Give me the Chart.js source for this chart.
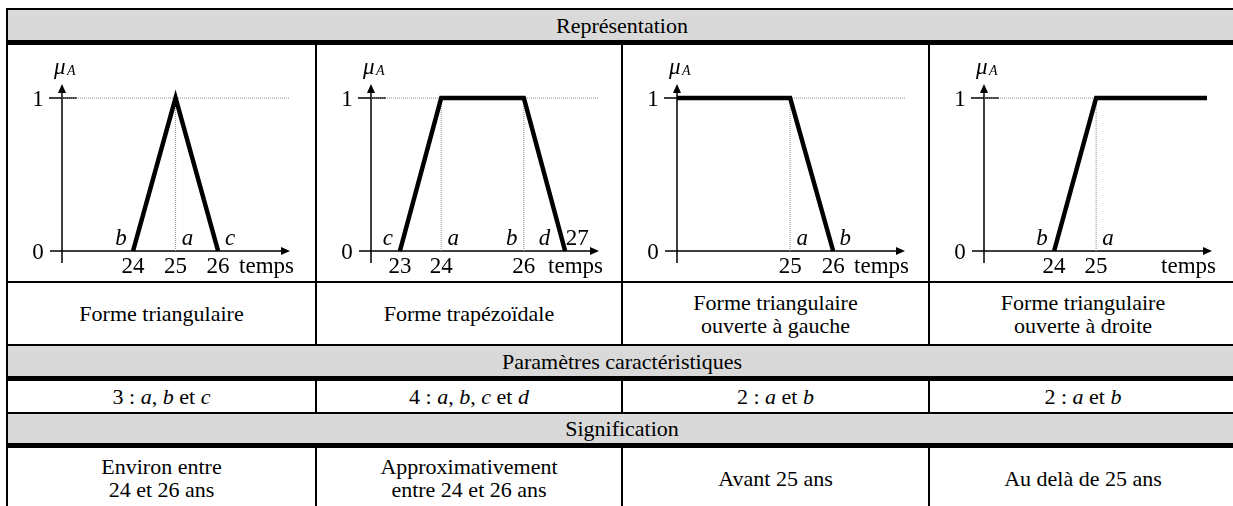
<!DOCTYPE html>
<html lang="fr">
<head>
    <meta charset="UTF-8">
    <title>Fonctions d'appartenance</title>
    <script src="https://cdn.jsdelivr.net/npm/chart.js"></script>
    <style>
        html, body {
            margin: 0;
            padding: 0;
            background: #fff;
            overflow: hidden;
            width: 1233px;
            height: 506px;
        }

        #grid {
            position: absolute;
            left: 6px;
            top: 8px;
            border-collapse: separate;
            border-spacing: 0;
            border-left: 2px solid #000;
            border-top: 2px solid #000;
            font-family: "Liberation Serif", "Times New Roman", serif;
            font-size: 22px;
            color: #000;
        }

        #grid td {
            padding: 0;
            border-right: 2px solid #000;
            border-bottom: 2px solid #000;
            vertical-align: top;
        }

        #grid td.head {
            background: #d9d9d9;
            border-bottom-width: 5px;
        }

        .txt {
            display: flex;
            align-items: center;
            justify-content: center;
            text-align: center;
            line-height: 23px;
        }

        canvas {
            display: block;
        }
    </style>
    <script>
        // membership functions: x = age, y = degree
        const triX = [24, 25, 26];
        const triY = [0, 1, 0];
        const trapX = [23, 24, 26, 27];
        const trapY = [0, 1, 1, 0];
        const leftX = [22.37, 25, 26];
        const leftY = [1, 1, 0];
        const rightX = [24, 25, 27.64];
        const rightY = [0, 1, 1];

        // axis ranges (from y axis to arrow head)
        const triRange = [22.33, 27.69];
        const trapRange = [22.30, 27.82];
        const leftRange = [22.37, 27.67];
        const rightRange = [22.33, 27.76];

        // tick labels under the axis
        const triTicks = [24, 25, 26];
        const trapTicks = [23, 24, 26];
        const leftTicks = [25, 26];
        const rightTicks = [24, 25];

        // parameter letters above the axis
        const triLetters = ["b", "a", "c"];
        const triLetterAt = [24, 25, 26];
        const triLetterSide = [-1, 1, 1];
        const trapLetters = ["c", "a", "b", "d", "27"];
        const trapLetterAt = [23, 24, 26, 26.5, 27];
        const trapLetterSide = [-1, 1, -1, 0, 1];
        const leftLetters = ["a", "b"];
        const leftLetterAt = [25, 26];
        const leftLetterSide = [1, 1];
        const rightLetters = ["b", "a"];
        const rightLetterAt = [24, 25];
        const rightLetterSide = [-1, 1];

        // dotted guides: verticals at x, horizontal at y=1 between two x
        const triGuideX = [25];
        const triGuideSpan = [22.33, 27.69];
        const trapGuideX = [24, 26];
        const trapGuideSpan = [22.30, 27.82];
        const leftGuideX = [25];
        const leftGuideSpan = [25, 27.67];
        const rightGuideX = [25];
        const rightGuideSpan = [22.33, 25];

        const serif = '"Liberation Serif", "Times New Roman", serif';

        const fuzzyAxes = {
            id: "fuzzyAxes",
            beforeDatasetsDraw(chart) {
                const { ctx, chartArea: a, scales: { y } } = chart;
                const y0 = y.getPixelForValue(0);
                const y1 = y.getPixelForValue(1);
                ctx.save();
                ctx.strokeStyle = "#000";
                ctx.fillStyle = "#000";
                ctx.lineWidth = 1.5;
                ctx.beginPath();
                ctx.moveTo(a.left - 12, y0);
                ctx.lineTo(a.right - 5, y0);
                ctx.moveTo(a.left, y0 + 12);
                ctx.lineTo(a.left, a.top - 8);
                ctx.moveTo(a.left - 13, y1);
                ctx.lineTo(a.left + 15, y1);
                ctx.stroke();
                // arrow heads
                ctx.beginPath();
                ctx.moveTo(a.right, y0);
                ctx.lineTo(a.right - 9, y0 - 4);
                ctx.lineTo(a.right - 9, y0 + 4);
                ctx.closePath();
                ctx.fill();
                ctx.beginPath();
                ctx.moveTo(a.left, a.top - 14);
                ctx.lineTo(a.left - 4, a.top - 5);
                ctx.lineTo(a.left + 4, a.top - 5);
                ctx.closePath();
                ctx.fill();
                ctx.restore();
            },
            afterDatasetsDraw(chart, args, opts) {
                const { ctx, chartArea: a, scales: { x, y } } = chart;
                const y0 = y.getPixelForValue(0);
                const y1 = y.getPixelForValue(1);
                ctx.save();
                ctx.fillStyle = "#000";
                ctx.textBaseline = "alphabetic";

                ctx.font = "23px " + serif;
                ctx.textAlign = "center";
                ctx.fillText("1", a.left - 24, y1 + 8);
                ctx.fillText("0", a.left - 24, y0 + 8);
                opts.ticks.forEach(v => {
                    ctx.fillText(String(v), x.getPixelForValue(v), y0 + 22);
                });
                ctx.textAlign = "right";
                ctx.fillText("temps", a.right + 4, y0 + 22);

                ctx.textAlign = "center";
                opts.letters.forEach((t, i) => {
                    const italic = isNaN(Number(t));
                    ctx.font = (italic ? "italic " : "") + "23px " + serif;
                    const px = x.getPixelForValue(opts.letterAt[i]) + opts.letterSide[i] * 12;
                    ctx.fillText(t, px, y0 - 6);
                });

                // mu_A
                ctx.textAlign = "left";
                ctx.font = "italic 23px " + serif;
                ctx.fillText("\u03BC", a.left - 8, a.top - 24);
                ctx.font = "italic 14px " + serif;
                ctx.fillText("A", a.left + 5, a.top - 23);
                ctx.restore();
            }
        };

        function makeChart(canvasId, xs, ys, range, ticks, letters, letterAt, letterSide, guideX, guideSpan) {
            const canvas = document.getElementById(canvasId);
            const guide = [];
            guideX.forEach(g => {
                guide.push({ x: g, y: 0 }, { x: g, y: 1 }, { x: g, y: null });
            });
            guide.push({ x: guideSpan[0], y: 1 }, { x: guideSpan[1], y: 1 });

            new Chart(canvas, {
                type: "line",
                data: {
                    datasets: [{
                        data: xs.map((v, i) => ({ x: v, y: ys[i] })),
                        borderColor: "#000",
                        borderWidth: 4.5,
                        borderJoinStyle: "miter",
                        pointRadius: 0,
                        tension: 0,
                        clip: false,
                        order: 0
                    }, {
                        data: guide,
                        borderColor: "#8c8c8c",
                        borderWidth: 1,
                        borderDash: [1, 1],
                        pointRadius: 0,
                        spanGaps: false,
                        clip: false,
                        order: 1
                    }]
                },
                options: {
                    responsive: false,
                    animation: false,
                    events: [],
                    layout: {
                        padding: { left: 54, right: canvas.width - 282, top: 53, bottom: 30 }
                    },
                    plugins: {
                        legend: { display: false },
                        tooltip: { enabled: false },
                        fuzzyAxes: {
                            ticks: ticks,
                            letters: letters,
                            letterAt: letterAt,
                            letterSide: letterSide
                        }
                    },
                    scales: {
                        x: { type: "linear", min: range[0], max: range[1], display: false },
                        y: { type: "linear", min: 0, max: 1, display: false }
                    }
                },
                plugins: [fuzzyAxes]
            });
        }

        document.addEventListener("DOMContentLoaded", () => {
            makeChart("triChart", triX, triY, triRange, triTicks, triLetters, triLetterAt, triLetterSide, triGuideX, triGuideSpan);
            makeChart("trapChart", trapX, trapY, trapRange, trapTicks, trapLetters, trapLetterAt, trapLetterSide, trapGuideX, trapGuideSpan);
            makeChart("leftChart", leftX, leftY, leftRange, leftTicks, leftLetters, leftLetterAt, leftLetterSide, leftGuideX, leftGuideSpan);
            makeChart("rightChart", rightX, rightY, rightRange, rightTicks, rightLetters, rightLetterAt, rightLetterSide, rightGuideX, rightGuideSpan);
        });
    </script>
</head>
<body>
    <table id="grid">
        <tr>
            <td colspan="4" class="head"><div class="txt" style="height:30px">Représentation</div></td>
        </tr>
        <tr>
            <td><canvas id="triChart" width="307" height="236"></canvas></td>
            <td><canvas id="trapChart" width="304" height="236"></canvas></td>
            <td><canvas id="leftChart" width="305" height="236"></canvas></td>
            <td><canvas id="rightChart" width="306" height="236"></canvas></td>
        </tr>
        <tr>
            <td><div class="txt" style="height:61px">Forme triangulaire</div></td>
            <td><div class="txt" style="height:61px">Forme trapézoïdale</div></td>
            <td><div class="txt" style="height:61px">Forme triangulaire<br>ouverte à gauche</div></td>
            <td><div class="txt" style="height:61px">Forme triangulaire<br>ouverte à droite</div></td>
        </tr>
        <tr>
            <td colspan="4" class="head"><div class="txt" style="height:30px">Paramètres caractéristiques</div></td>
        </tr>
        <tr>
            <td><div class="txt" style="height:31px">3 :&nbsp;<i>a</i>,&nbsp;<i>b</i>&nbsp;et&nbsp;<i>c</i></div></td>
            <td><div class="txt" style="height:31px">4 :&nbsp;<i>a</i>,&nbsp;<i>b</i>,&nbsp;<i>c</i>&nbsp;et&nbsp;<i>d</i></div></td>
            <td><div class="txt" style="height:31px">2 :&nbsp;<i>a</i>&nbsp;et&nbsp;<i>b</i></div></td>
            <td><div class="txt" style="height:31px">2 :&nbsp;<i>a</i>&nbsp;et&nbsp;<i>b</i></div></td>
        </tr>
        <tr>
            <td colspan="4" class="head"><div class="txt" style="height:29px">Signification</div></td>
        </tr>
        <tr>
            <td><div class="txt" style="height:60px">Environ entre<br>24 et 26 ans</div></td>
            <td><div class="txt" style="height:60px">Approximativement<br>entre 24 et 26 ans</div></td>
            <td><div class="txt" style="height:60px">Avant 25 ans</div></td>
            <td><div class="txt" style="height:60px">Au delà de 25 ans</div></td>
        </tr>
    </table>
</body>
</html>
